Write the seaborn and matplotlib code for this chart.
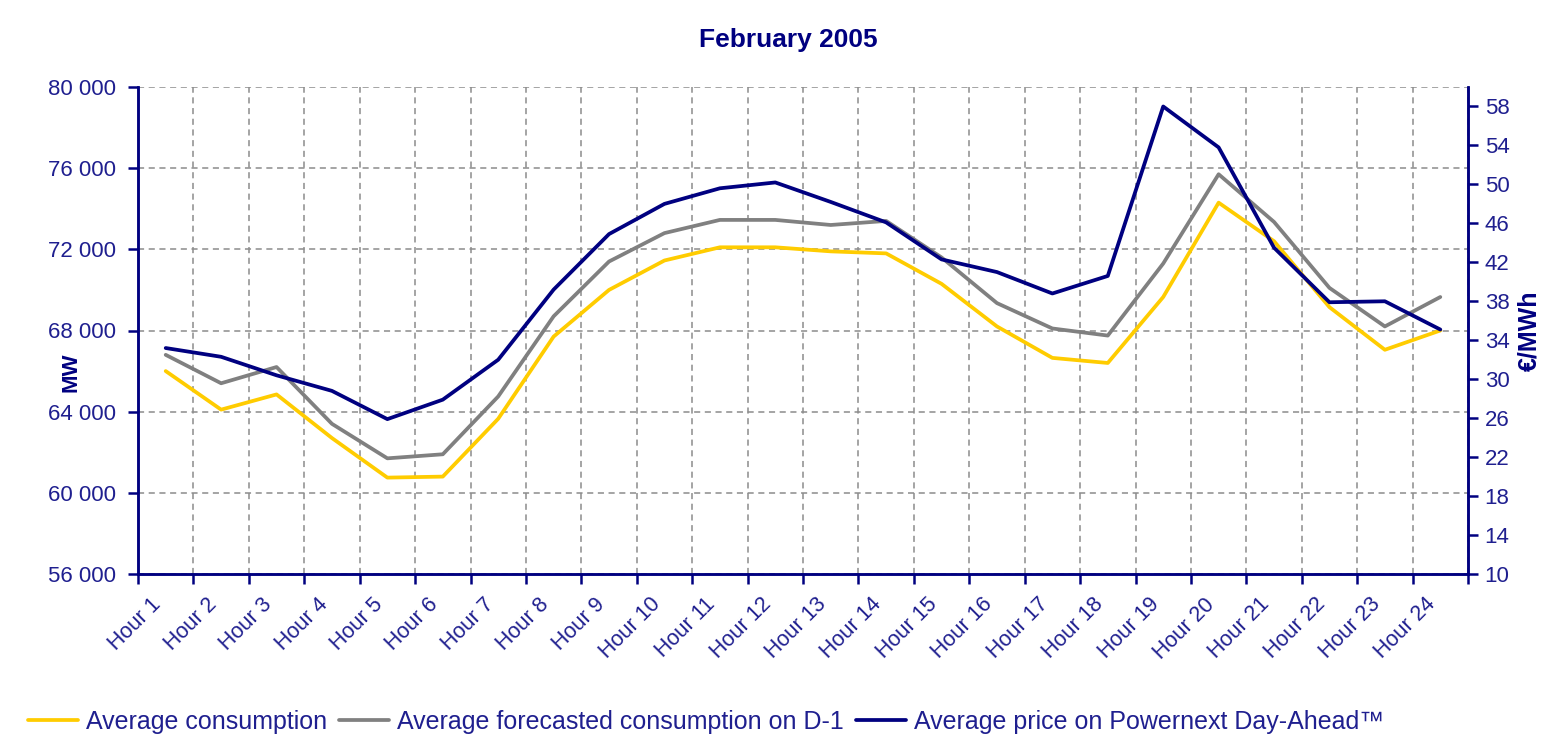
import numpy as np
import pandas as pd
import matplotlib
matplotlib.use("Agg")
import matplotlib.pyplot as plt
import matplotlib.transforms as mtransforms
from matplotlib.lines import Line2D
from matplotlib.ticker import FuncFormatter, MultipleLocator
import seaborn as sns

# valeurs
heures = [f"Hour {i}" for i in range(1, 25)]
consommation = [66000, 64100, 64850, 62700, 60750, 60800, 63650, 67700, 70000, 71450, 72100, 72100,
                71900, 71800, 70300, 68200, 66650, 66400, 69650, 74300, 72400, 69150, 67050, 68000]
prevision = [66800, 65400, 66200, 63400, 61700, 61900, 64750, 68700, 71400, 72800, 73450, 73450,
             73200, 73400, 71600, 69350, 68100, 67750, 71300, 75700, 73350, 70100, 68200, 69650]
prix = [33.2, 32.3, 30.4, 28.8, 25.9, 27.9, 32.0, 39.2, 44.9, 48.0, 49.6, 50.2,
        48.2, 46.1, 42.3, 41.0, 38.8, 40.6, 58.0, 53.8, 43.5, 37.9, 38.0, 35.1]

JAUNE = "#FFCC00"
GRIS = "#808080"
MARINE = "#000080"
TEXTE = "#1F1F8F"
EPAIS = 2.7

sns.set_theme(style="white")
plt.rcParams['font.family'] = ['Liberation Sans', 'DejaVu Sans']

df = pd.DataFrame({"h": np.arange(24), "conso": consommation, "prev": prevision, "prix": prix})

fig = plt.figure(figsize=(15.51, 7.43), dpi=100)
ax = fig.add_axes([138 / 1551, 1 - 574 / 743, (1468 - 138) / 1551, (574 - 87) / 743])
ax2 = ax.twinx()

sns.lineplot(data=df, x="h", y="conso", ax=ax, color=JAUNE, linewidth=EPAIS, legend=False, zorder=3)
sns.lineplot(data=df, x="h", y="prev", ax=ax, color=GRIS, linewidth=EPAIS, legend=False, zorder=3)
sns.lineplot(data=df, x="h", y="prix", ax=ax2, color=MARINE, linewidth=EPAIS, legend=False, zorder=3)

ax.set_xlim(-0.5, 23.5)
ax.set_ylim(56000, 80000)
ax2.set_ylim(10, 60)
ax.yaxis.set_major_locator(MultipleLocator(4000))
ax.yaxis.set_major_formatter(FuncFormatter(lambda v, p: f"{int(v):,}".replace(",", " ")))
ax2.set_yticks(np.arange(10, 59, 4))

ax.set_xticks(np.arange(24))
ax.set_xticklabels(heures)
ax.set_xticks(np.arange(-0.5, 24, 1), minor=True)
ax.tick_params(axis="x", which="major", length=0, labelsize=15.5, labelcolor=TEXTE, pad=0)
ax.tick_params(axis="x", which="minor", length=7, width=1.8, color=MARINE, direction="out", bottom=True)
ax.tick_params(axis="y", length=7, width=1.8, color=MARINE, labelsize=16, labelcolor=TEXTE,
               direction="out", left=True, pad=9)
ax2.tick_params(axis="y", length=7, width=1.8, color=MARINE, labelsize=16, labelcolor=TEXTE,
                direction="out", right=True, pad=5)

decal = mtransforms.ScaledTranslation(-0.15, -0.20, fig.dpi_scale_trans)
for lab in ax.get_xticklabels():
    lab.set_rotation(45)
    lab.set_ha("right")
    lab.set_va("top")
    lab.set_rotation_mode("anchor")
    lab.set_transform(lab.get_transform() + decal)

ax.grid(True, which="minor", axis="x", linestyle=(0, (4, 3)), color="#8C8C8C", linewidth=1.1)
ax.grid(True, which="major", axis="y", linestyle=(0, (4, 3)), color="#8C8C8C", linewidth=1.1)
ax.set_axisbelow(True)

for a in (ax, ax2):
    a.spines["top"].set_visible(False)
    for s in ("left", "right", "bottom"):
        a.spines[s].set_color(MARINE)
        a.spines[s].set_linewidth(1.8)
ax2.grid(False)

ax.set_xlabel("")
ax.set_ylabel("MW", color=MARINE, fontsize=16, fontweight="bold")
ax.yaxis.set_label_coords((82 - 138) / 1330, (574 - 372) / 487)
ax2.set_ylabel("€/MWh", color=MARINE, fontsize=18, fontweight="bold", rotation=90)
ax2.yaxis.set_label_coords((1517 - 138) / 1330, (574 - 331) / 487)

fig.text(788 / 1551, 1 - 40 / 743, "February 2005", ha="center", va="center",
         fontsize=19, fontweight="bold", color=MARINE)

poignees = [Line2D([], [], color=c, linewidth=EPAIS) for c in (JAUNE, GRIS, MARINE)]
noms = ["Average consumption", "Average forecasted consumption on D-1",
        "Average price on Powernext Day-Ahead™"]
leg = fig.legend(poignees, noms, loc="center", ncol=3, frameon=False,
                 bbox_to_anchor=(706 / 1551, 1 - 722 / 743), fontsize=18,
                 handlelength=2.0, handletextpad=0.3, columnspacing=0.5)
for t in leg.get_texts():
    t.set_color(TEXTE)

fig.savefig("out.png", dpi=100, facecolor="white")
